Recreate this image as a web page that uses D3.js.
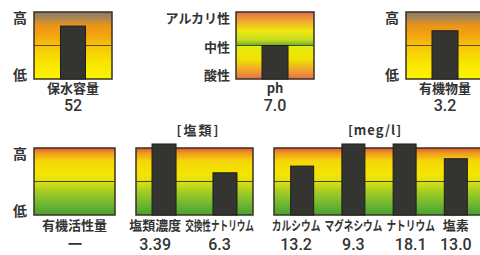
<!DOCTYPE html>
<html>
<head>
<meta charset="utf-8">
<script src="https://cdn.jsdelivr.net/npm/d3@7"></script>
<style>
  body { margin: 0; background: #fff; }
  text { font-family: "Noto Sans CJK JP", sans-serif; fill: #333; }
  .cat { font-size: 13px; font-weight: 700; }
  .val { font-family: Roboto, "Liberation Sans", sans-serif; font-size: 16px; font-weight: 500; }
  .tick { font-size: 14px; font-weight: 700; }
  .phtick { font-size: 13px; font-weight: 700; }
  .unit { font-size: 13px; font-weight: 700; }
</style>
</head>
<body>
<div id="container"></div>
<script>
// data (bar heights as % of the box, 0 = low, 100 = high)
var waterCats = ["保水容量"], waterVals = [79], waterLabels = ["52"];
var phCats = ["ph"], phVals = [50], phLabels = ["7.0"];
var organicCats = ["有機物量"], organicVals = [72], organicLabels = ["3.2"];
var activityCats = ["有機活性量"], activityVals = [null], activityLabels = ["ー"];
var saltCats = ["塩類濃度", "交換性ナトリウム"], saltVals = [106, 63], saltLabels = ["3.39", "6.3"];
var ionCats = ["カルシウム", "マグネシウム", "ナトリウム", "塩素"], ionVals = [73, 106, 106, 84], ionLabels = ["13.2", "9.3", "18.1", "13.0"];

var levelTicks = ["低", "高"], levelTickVals = [6, 91];
var phTicks = ["酸性", "中性", "アルカリ性"], phTickVals = [5, 48, 91];

var width = 480, height = 255;

var svg = d3.select("#container")
  .append("svg")
  .attr("width", width)
  .attr("height", height);

var defs = svg.append("defs");

function gradient(id, stops) {
  var g = defs.append("linearGradient")
    .attr("id", id)
    .attr("x1", "0%").attr("y1", "0%")
    .attr("x2", "0%").attr("y2", "100%");
  g.selectAll("stop")
    .data(stops)
    .enter()
    .append("stop")
    .attr("offset", d => d[0])
    .attr("stop-color", d => d[1]);
}

gradient("orange", [
  [0, "#867a68"], [0.1, "#b08850"], [0.2, "#ec9418"], [0.35, "#f2a410"],
  [0.5, "#f6c408"], [0.75, "#f8e400"], [1, "#fcf400"]
]);
gradient("ph", [
  [0, "#e06a58"], [0.12, "#f0a030"], [0.28, "#eee810"], [0.42, "#c4dc20"],
  [0.5, "#70a828"], [0.5, "#e4ea10"], [0.7, "#f0e400"], [0.88, "#f0a030"], [1, "#e07048"]
]);
gradient("green", [
  [0, "#e05a30"], [0.08, "#f09c20"], [0.2, "#f6d808"], [0.4, "#f2e600"],
  [0.5, "#dce210"], [0.62, "#b0d020"], [0.8, "#78bc30"], [1, "#48a030"]
]);

var panels = [
  { cats: waterCats, vals: waterVals, labels: waterLabels, x0: 34, x1: 112, y0: 12, y1: 79, catDy: 14, valDy: 32,
    fill: "orange", mid: "#6a4820", ticks: levelTicks, tickVals: levelTickVals, tickX: 20, pad: 0.5, bw: 25 },
  { cats: phCats, vals: phVals, labels: phLabels, x0: 236, x1: 314, y0: 12, y1: 79, catDy: 14, valDy: 32,
    fill: "ph", mid: "#2e5a20", ticks: phTicks, tickVals: phTickVals, tickX: 230, anchor: "end", pad: 0.5, bw: 26 },
  { cats: organicCats, vals: organicVals, labels: organicLabels, x0: 406, x1: 484, y0: 12, y1: 79, catDy: 14, valDy: 32,
    fill: "orange", mid: "#6a4820", ticks: levelTicks, tickVals: levelTickVals, tickX: 392, pad: 0.5, bw: 26 },
  { cats: activityCats, vals: activityVals, labels: activityLabels, x0: 34, x1: 115, y0: 148, y1: 215, catDy: 15, valDy: 35,
    fill: "green", mid: "#5a4220", ticks: levelTicks, tickVals: levelTickVals, tickX: 20, pad: 0.5, bw: 24 },
  { cats: saltCats, vals: saltVals, labels: saltLabels, x0: 136, x1: 253, y0: 148, y1: 215, catDy: 15, valDy: 35,
    fill: "green", mid: "#5a4220", pad: 0.46, bw: 24, unit: "[塩類]" },
  { cats: ionCats, vals: ionVals, labels: ionLabels, x0: 274, x1: 484, y0: 148, y1: 215, catDy: 15, valDy: 35,
    fill: "green", mid: "#5a4220", pad: 0.55, bw: 23, unit: "[meg/l]" }
];

// width of a label set in a proportional face: kana run narrower than kanji
function labelWidth(s, size) {
  var w = 0;
  for (var ch of s) w += /[\u30a0-\u30ff]/.test(ch) ? 0.75 * size : size;
  return w;
}

panels.forEach(function(p) {
  var x = d3.scalePoint().domain(p.cats).range([p.x0, p.x1]).padding(p.pad);
  var y = d3.scaleLinear().domain([0, 100]).range([p.y1, p.y0]);
  var g = svg.append("g");

  g.append("rect")
    .attr("x", p.x0).attr("y", p.y0)
    .attr("width", p.x1 - p.x0).attr("height", p.y1 - p.y0)
    .attr("fill", "url(#" + p.fill + ")")
    .attr("stroke", "#3a3020")
    .attr("stroke-width", 1.5);

  g.append("line")
    .attr("x1", p.x0).attr("x2", p.x1)
    .attr("y1", y(50)).attr("y2", y(50))
    .attr("stroke", p.mid)
    .attr("stroke-width", 1.2);

  var data = p.cats.map((c, i) => ({ cat: c, v: p.vals[i], label: p.labels[i] }));

  // label layout: squeeze long ones, then push overlapping neighbours apart
  var step = p.cats.length > 1 ? x.step() : 200;
  data.forEach(function(d) {
    d.w = Math.min(labelWidth(d.cat, 13), step * 1.13);
    d.cx = x(d.cat);
  });
  var gap = 4;
  for (var it = 0; it < 40; it++) {
    for (var i = 1; i < data.length; i++) {
      var a = data[i - 1], b = data[i];
      var over = (a.cx + a.w / 2 + gap) - (b.cx - b.w / 2);
      if (over > 0) { a.cx -= over / 2; b.cx += over / 2; }
    }
    var last = data[data.length - 1];
    if (last.cx + last.w / 2 > p.x1 + 1) last.cx = p.x1 + 1 - last.w / 2;
  }

  g.selectAll(".bar")
    .data(data.filter(d => d.v != null))
    .enter()
    .append("rect")
    .attr("class", "bar")
    .attr("x", d => x(d.cat) - p.bw / 2)
    .attr("y", d => y(d.v))
    .attr("width", p.bw)
    .attr("height", d => y(0) - y(d.v))
    .attr("fill", "#343531")
    .attr("stroke", "#1e1e1c")
    .attr("stroke-width", 1);

  g.selectAll(".cat")
    .data(data)
    .enter()
    .append("text")
    .attr("class", "cat")
    .attr("text-anchor", "middle")
    .text(d => d.cat)
    .attr("transform", function(d) {
      var natural = this.getComputedTextLength();
      var sx = Math.min(1, d.w / natural);
      return "translate(" + d.cx + "," + (p.y1 + p.catDy) + ") scale(" + sx + ",1)";
    });

  g.selectAll(".val")
    .data(data)
    .enter()
    .append("text")
    .attr("class", "val")
    .attr("x", d => d.cx)
    .attr("y", p.y1 + p.valDy)
    .attr("text-anchor", "middle")
    .text(d => d.label);

  if (p.ticks) {
    g.selectAll(".tick")
      .data(p.ticks)
      .enter()
      .append("text")
      .attr("class", p.anchor ? "phtick" : "tick")
      .attr("x", p.tickX)
      .attr("y", (d, i) => y(p.tickVals[i]))
      .attr("dy", "0.36em")
      .attr("text-anchor", p.anchor || "middle")
      .text(d => d);
  }

  if (p.unit) {
    g.append("text")
      .attr("class", "unit")
      .attr("x", (p.x0 + p.x1) / 2 + (p.x1 > 480 ? -4 : 4))
      .attr("y", p.y0 - 18)
      .attr("dy", "0.36em")
      .attr("text-anchor", "middle")
      .style("letter-spacing", p.x1 > 480 ? "1px" : "2px")
      .text(p.unit);
  }
});
</script>
</body>
</html>
